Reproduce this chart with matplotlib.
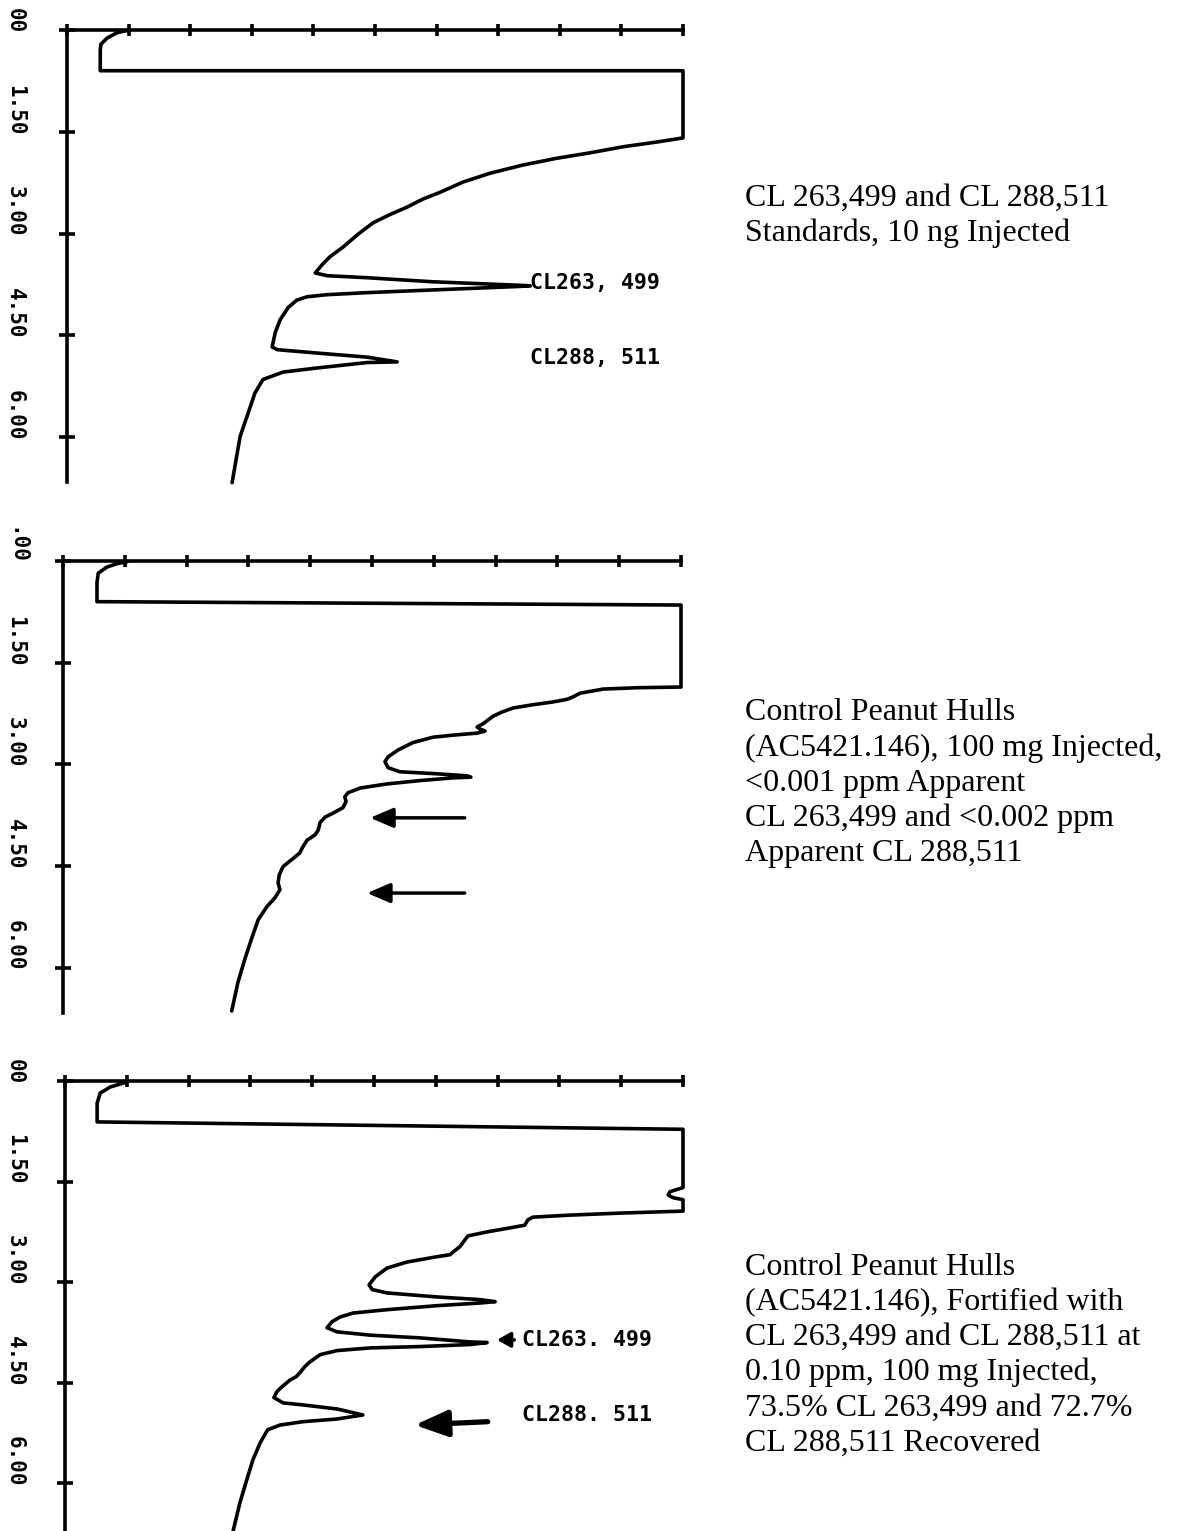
import matplotlib.pyplot as plt
from matplotlib.transforms import blended_transform_factory

W, H = 1188, 1531

time_ticks = [0.0, 1.5, 3.0, 4.5, 6.0]
signal_ticks = list(range(11))

# panel 1 - standards, 10 ng
std_time = [0.00, 0.04, 0.12, 0.21, 0.29, 0.60, 0.60, 1.59, 1.65, 1.72, 1.81, 1.89, 1.99,
            2.11, 2.24, 2.39, 2.49, 2.61, 2.72, 2.84, 3.02, 3.20, 3.34, 3.46, 3.58,
            3.62, 3.65, 3.71, 3.76, 3.77, 3.78, 3.83, 3.87, 3.90, 3.93, 3.98, 4.09, 4.27,
            4.46, 4.67, 4.71, 4.76, 4.82, 4.89, 4.90, 4.98, 5.04, 5.15, 5.35, 5.70, 5.99,
            6.67]
std_signal = [1.02, 0.81, 0.65, 0.55, 0.54, 0.54, 10.0, 10.0, 9.58, 9.03, 8.49, 7.95, 7.40,
              6.87, 6.43, 6.06, 5.78, 5.52, 5.24, 4.97, 4.71, 4.48, 4.27, 4.14, 4.03,
              4.22, 4.87, 5.94, 7.31, 7.52, 7.31, 5.94, 4.87, 4.22, 3.90, 3.73, 3.59, 3.46,
              3.38, 3.33, 3.41, 4.06, 4.87, 5.36, 4.87, 4.06, 3.51, 3.18, 3.05, 2.92, 2.81,
              2.68]

# panel 2 - control peanut hulls
ctl_time = [0.01, 0.04, 0.09, 0.18, 0.32, 0.60, 0.65, 1.86, 1.87, 1.89, 1.95, 2.01, 2.04,
            2.08, 2.12, 2.17, 2.23, 2.29, 2.40, 2.45, 2.48, 2.51, 2.54, 2.57, 2.60, 2.68,
            2.79, 2.89, 2.96, 3.05, 3.11, 3.14, 3.17, 3.19, 3.20, 3.24, 3.29, 3.35, 3.42,
            3.48, 3.55, 3.64, 3.72, 3.78, 3.86, 3.97, 4.04, 4.12, 4.22, 4.31, 4.40, 4.51,
            4.63, 4.75, 4.85, 4.97, 5.10, 5.29, 5.55, 5.88, 6.22, 6.64]
ctl_signal = [1.04, 0.87, 0.71, 0.57, 0.55, 0.55, 10.0, 10.0, 9.29, 8.74, 8.37, 8.24, 8.16,
              7.93, 7.61, 7.28, 7.10, 6.96, 6.80, 6.70, 6.75, 6.83, 6.70, 6.31, 5.99, 5.66,
              5.42, 5.26, 5.21, 5.26, 5.45, 6.05, 6.54, 6.60, 6.31, 5.78, 5.24, 4.81, 4.61,
              4.56, 4.58, 4.53, 4.37, 4.24, 4.16, 4.13, 4.08, 3.95, 3.88, 3.83, 3.71, 3.56,
              3.50, 3.48, 3.51, 3.43, 3.30, 3.16, 3.06, 2.94, 2.83, 2.73]

# panel 3 - fortified control at 0.10 ppm
fort_time = [0.01, 0.09, 0.18, 0.33, 0.61, 0.72, 1.59, 1.65, 1.70, 1.74, 1.77, 1.94, 1.97,
             2.00, 2.03, 2.07, 2.15, 2.19, 2.25, 2.31, 2.37, 2.47, 2.55, 2.59, 2.62, 2.70,
             2.79, 2.92, 3.04, 3.11, 3.16, 3.22, 3.26, 3.29, 3.31, 3.35, 3.41, 3.46, 3.52,
             3.59, 3.68, 3.74, 3.79, 3.83, 3.89, 3.90, 3.93, 3.96, 3.98, 4.02, 4.08, 4.19,
             4.26, 4.35, 4.41, 4.46, 4.56, 4.63, 4.72, 4.80, 4.83, 4.89, 4.98, 5.04, 5.08,
             5.13, 5.20, 5.39, 5.65, 5.95, 6.29, 6.71]
fort_signal = [1.02, 0.73, 0.57, 0.52, 0.52, 10.0, 10.0, 9.79, 9.76, 9.84, 10.0, 10.0, 8.98,
               8.17, 7.57, 7.49, 7.44, 7.20, 6.83, 6.52, 6.47, 6.39, 6.28, 6.23, 6.02, 5.53,
               5.21, 5.02, 4.92, 4.97, 5.21, 6.02, 6.72, 6.96, 6.72, 6.02, 5.21, 4.66, 4.45,
               4.32, 4.24, 4.40, 4.94, 5.74, 6.55, 6.83, 6.55, 5.74, 4.94, 4.40, 4.13, 3.96,
               3.88, 3.80, 3.74, 3.64, 3.51, 3.43, 3.38, 3.53, 3.85, 4.40, 4.82, 4.40, 3.85,
               3.48, 3.28, 3.16, 3.04, 2.94, 2.83, 2.72]

first_labels = ["00", ".00", "00"]
tick_text = ["1.50", "3.00", "4.50", "6.00"]

captions = [
    "CL 263,499 and CL 288,511\nStandards, 10 ng Injected",
    "Control Peanut Hulls\n(AC5421.146), 100 mg Injected,\n<0.001 ppm Apparent\n"
    "CL 263,499 and <0.002 ppm\nApparent CL 288,511",
    "Control Peanut Hulls\n(AC5421.146), Fortified with\nCL 263,499 and CL 288,511 at\n"
    "0.10 ppm, 100 mg Injected,\n73.5% CL 263,499 and 72.7%\nCL 288,511 Recovered",
]
caption_y = [216, 783, 1355]

# axes boxes in pixels: left, top, right, bottom
boxes = [(67, 30, 683, 482), (63, 561, 681, 1013), (65, 1081, 683, 1531)]
tmax = [6.66, 6.67, 6.71]

fig = plt.figure(figsize=(W / 100, H / 100), dpi=100)

lw = 2.6
mono = "DejaVu Sans Mono"
axes = []
for i, (l, t, r, b) in enumerate(boxes):
    ax = fig.add_axes([l / W, 1 - b / H, (r - l) / W, (b - t) / H])
    ax.set_xlim(0, 10)
    ax.set_ylim(tmax[i], 0)
    for s in ["right", "bottom"]:
        ax.spines[s].set_visible(False)
    for s in ["left", "top"]:
        ax.spines[s].set_linewidth(lw)
    ax.xaxis.tick_top()
    ax.set_xticks(signal_ticks)
    ax.set_xticklabels([])
    ax.set_yticks(time_ticks)
    ax.set_yticklabels([])
    ax.tick_params(axis="x", direction="inout", length=9, width=lw)
    ax.tick_params(axis="y", direction="inout", length=12, width=lw)
    trans = blended_transform_factory(fig.transFigure, ax.transData)
    for tt, lab in zip(time_ticks, [first_labels[i]] + tick_text):
        ax.text(15 / W, tt + 0.05, lab, transform=trans, rotation=270, ha="center",
                va="bottom", fontsize=15, fontweight="bold", family=mono)
    fig.text(745 / W, 1 - caption_y[i] / H, captions[i], ha="left", va="center",
             fontsize=23, family="Liberation Serif", linespacing=1.27)
    axes.append(ax)

ax1, ax2, ax3 = axes
for ax, sig, tm in [(ax1, std_signal, std_time), (ax2, ctl_signal, ctl_time),
                    (ax3, fort_signal, fort_time)]:
    ax.plot(sig, tm, color="black", lw=lw, clip_on=False,
            solid_joinstyle="round", solid_capstyle="round")

# peak labels
lab_kw = dict(fontsize=15.5, fontweight="bold", family=mono, va="center")
ax1.text(7.52, 3.73, "CL263, 499", **lab_kw)
ax1.text(7.52, 4.83, "CL288, 511", **lab_kw)
ax3.text(7.40, 3.86, "CL263. 499", **lab_kw)
ax3.text(7.40, 4.98, "CL288. 511", **lab_kw)

# arrows marking the retention windows
arrow_style = dict(arrowstyle="-|>,head_length=1.4,head_width=0.6", color="black", lw=2.5,
                   shrinkA=0, shrinkB=0)
ax2.annotate("", xy=(4.97, 3.79), xytext=(6.50, 3.79), arrowprops=arrow_style)
ax2.annotate("", xy=(4.92, 4.90), xytext=(6.50, 4.90), arrowprops=arrow_style)
ax3.annotate("", xy=(6.99, 3.86), xytext=(7.27, 3.86),
             arrowprops=dict(arrowstyle="-|>,head_length=0.8,head_width=0.45", color="black",
                             lw=2.5, shrinkA=0, shrinkB=0))
ax3.annotate("", xy=(5.66, 5.13), xytext=(6.84, 5.08),
             arrowprops=dict(arrowstyle="-|>,head_length=2.0,head_width=0.8", color="black",
                             lw=3.8, shrinkA=0, shrinkB=0))

fig.savefig("out.png", dpi=100)
